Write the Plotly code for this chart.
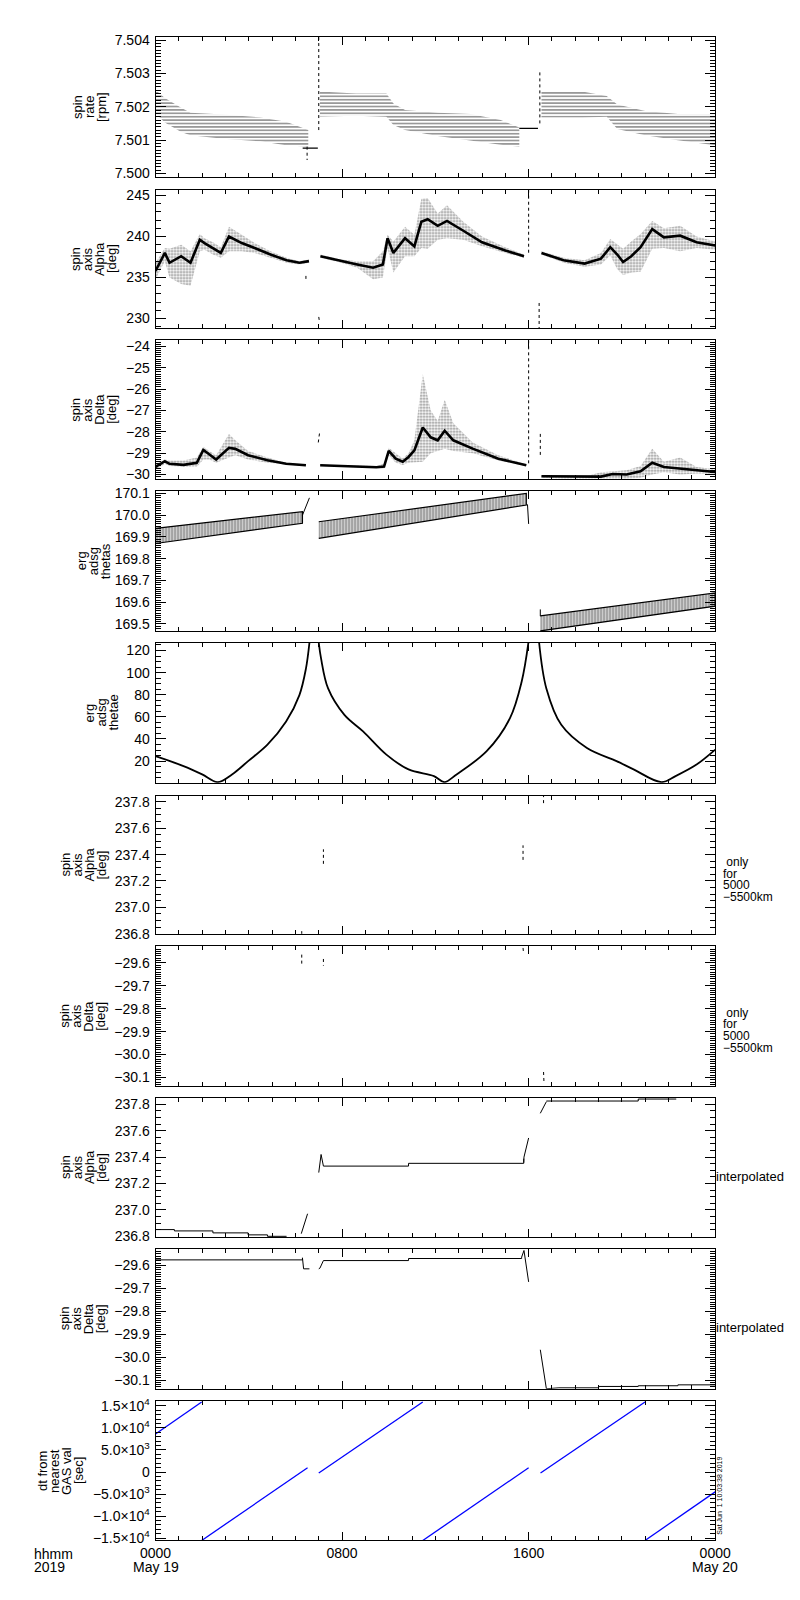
import plotly.graph_objects as go

# ---------------- data (hours since 0000 May 19) ----------------
# panel 1: spin rate [rpm], quantized dotted levels -> upper / lower envelopes
rate_h1 = [0, 0.4, 1.1, 1.5, 2.9, 4.5, 5.6, 6.55]
rate_hi1 = [7.5025, 7.50226, 7.50197, 7.50182, 7.50177, 7.50168, 7.50155, 7.5013]
rate_lo1 = [7.5018, 7.50153, 7.50124, 7.50114, 7.50104, 7.50096, 7.50084, 7.5008]
rate_h2 = [7.05, 8.6, 9.9, 10.2, 10.7, 12.1, 13.5, 14.8, 15.6]
rate_hi2 = [7.50246, 7.5024, 7.5024, 7.5021, 7.5019, 7.50182, 7.50178, 7.5016, 7.50138]
rate_lo2 = [7.50171, 7.50173, 7.5017, 7.50145, 7.5013, 7.50112, 7.50098, 7.50086, 7.5008]
rate_h3 = [16.55, 18.3, 19.35, 19.8, 21.0, 22.4, 24.0]
rate_hi3 = [7.50246, 7.50246, 7.50232, 7.50207, 7.50187, 7.50178, 7.50178]
rate_lo3 = [7.50168, 7.50168, 7.5017, 7.50133, 7.50114, 7.50099, 7.50084]
rate_flat_h = [6.31, 6.96, None, 15.6, 16.4]
rate_flat_v = [7.50076, 7.50076, None, 7.50135, 7.50135]
rate_spike_h = [7.0, 7.0, None, 16.48, 16.48, None, 6.5, 6.5]
rate_spike_v = [7.5013, 7.5041, None, 7.5015, 7.5031, None, 7.5008, 7.5004]

# panel 2: spin axis Alpha [deg]
alp_h1 = [0, 0.4, 0.6, 1.1, 1.5, 1.9, 2.1, 2.46, 2.8, 3.15, 3.7, 4.25, 4.93, 5.62, 6.17, 6.58]
alp_c1 = [235.8, 238.0, 236.8, 237.6, 236.8, 239.6, 239.2, 238.6, 238.0, 240.0, 239.2, 238.6, 237.8, 237.1, 236.8, 237.0]
alp_hi1 = [236.8, 238.6, 238.5, 239.0, 238.2, 240.3, 239.8, 239.3, 238.7, 241.2, 240.2, 239.2, 238.2, 237.4, 237.0, 237.2]
alp_lo1 = [234.8, 237.0, 235.0, 234.2, 234.0, 238.2, 238.4, 237.8, 237.4, 238.2, 238.2, 238.0, 237.4, 236.8, 236.6, 236.8]
alp_h2 = [7.07, 7.96, 8.65, 9.33, 9.75, 9.95, 10.2, 10.7, 11.1, 11.4, 11.67, 12.1, 12.5, 13.2, 14.0, 15.0, 15.8]
alp_c2 = [237.6, 237.0, 236.6, 236.2, 236.6, 239.8, 238.0, 239.8, 238.8, 241.8, 242.1, 241.3, 241.9, 240.7, 239.3, 238.3, 237.6]
alp_hi2 = [237.8, 237.2, 237.0, 237.0, 238.2, 240.2, 239.4, 241.2, 240.2, 244.6, 244.7, 242.8, 243.8, 241.8, 240.0, 238.7, 237.8]
alp_lo2 = [237.4, 236.8, 236.2, 234.8, 235.0, 238.6, 235.6, 237.6, 237.6, 238.6, 238.5, 239.6, 239.8, 239.6, 238.8, 238.0, 237.4]
alp_h3 = [16.55, 17.5, 18.4, 19.1, 19.5, 19.8, 20.05, 20.4, 20.8, 21.3, 21.8, 22.5, 23.2, 24.0]
alp_c3 = [238.0, 237.1, 236.7, 237.3, 238.7, 237.8, 236.9, 237.6, 238.7, 240.9, 239.9, 240.1, 239.3, 238.9]
alp_hi3 = [238.2, 237.4, 237.1, 238.0, 239.7, 239.0, 238.5, 239.4, 240.3, 241.9, 241.0, 241.3, 240.0, 239.4]
alp_lo3 = [237.8, 236.8, 236.3, 236.6, 237.7, 236.0, 235.3, 235.6, 235.7, 238.5, 238.6, 238.2, 238.6, 238.4]
alp_spike_h = [16.0, 16.0, None, 16.45, 16.45, None, 7.0, 7.03, None, 6.45, 6.45]
alp_spike_v = [245.7, 237.8, None, 231.9, 228.8, None, 230.2, 229.6, None, 235.2, 234.8]

# panel 3: spin axis Delta [deg]
del_h1 = [0, 0.4, 0.6, 1.2, 1.77, 2.05, 2.3, 2.6, 3.15, 3.42, 3.97, 4.8, 5.6, 6.45]
del_c1 = [-29.65, -29.38, -29.5, -29.55, -29.45, -28.85, -29.05, -29.3, -28.75, -28.8, -29.1, -29.33, -29.5, -29.57]
del_hi1 = [-29.5, -29.3, -29.35, -29.35, -29.2, -28.7, -28.9, -29.1, -28.1, -28.4, -28.9, -29.2, -29.45, -29.53]
del_lo1 = [-29.8, -29.5, -29.6, -29.65, -29.65, -29.3, -29.3, -29.45, -29.2, -29.1, -29.3, -29.45, -29.55, -29.62]
del_h2 = [7.06, 8.1, 9.47, 9.8, 10.0, 10.3, 10.6, 10.85, 11.1, 11.46, 11.8, 12.1, 12.4, 12.77, 13.6, 14.7, 15.9]
del_c2 = [-29.57, -29.6, -29.66, -29.63, -28.9, -29.26, -29.4, -29.18, -28.87, -27.8, -28.26, -28.4, -27.95, -28.4, -28.79, -29.26, -29.57]
del_hi2 = [-29.54, -29.57, -29.6, -29.5, -28.75, -29.0, -29.25, -29.0, -28.4, -25.3, -27.0, -27.5, -26.5, -27.6, -28.5, -29.1, -29.53]
del_lo2 = [-29.6, -29.63, -29.7, -29.72, -29.1, -29.45, -29.55, -29.45, -29.45, -29.4, -29.0, -28.9, -28.8, -28.9, -29.0, -29.35, -29.6]
del_h3 = [16.55, 17.5, 18.5, 19.1, 19.6, 20.2, 20.8, 21.3, 21.8, 22.5, 23.2, 24.0]
del_c3 = [-30.08, -30.1, -30.12, -30.1, -29.98, -30.0, -29.85, -29.45, -29.65, -29.72, -29.8, -29.88]
del_hi3 = [-30.05, -30.07, -30.07, -29.9, -29.85, -29.8, -29.6, -28.8, -29.4, -29.2, -29.65, -29.75]
del_lo3 = [-30.15, -30.2, -30.2, -30.2, -30.2, -30.2, -30.15, -30.0, -29.9, -30.0, -29.95, -29.95]
del_spike_h = [16.0, 16.0, None, 16.5, 16.5, None, 6.98, 7.04]
del_spike_v = [-23.72, -29.6, None, -28.1, -29.2, None, -28.5, -28.0]

# panel 4: erg adsg thetas
ths_h = [[0, 6.3], [7.0, 15.9], [16.5, 24.0]]
ths_hi = [[169.94, 170.016], [169.97, 170.1], [169.537, 169.643]]
ths_lo = [[169.87, 169.963], [169.894, 170.047], [169.468, 169.582]]
ths_spike_h = [6.3, 6.6, None, 15.95, 16.0, None, 16.5, 16.5]
ths_spike_v = [170.0, 170.08, None, 170.05, 169.96, None, 169.567, 169.536]

# panel 5: erg adsg thetae
the_h = [0, 1.2, 2.0, 2.66, 3.28, 3.97, 4.8, 5.6, 6.17, 6.45, 6.6, None,
         7.0, 7.1, 7.4, 8.1, 8.9, 9.9, 10.85, 11.94, 12.39, 12.91, 14.2, 15.2, 15.7, 15.99, None,
         16.45, 16.76, 17.4, 18.5, 19.77, 20.5, 21.7, 22.3, 23.2, 24.0]
the_v = [24.5, 15.5, 8, 1, 8, 20, 34.9, 55.8, 79.7, 103.6, 127, None,
         127, 112.6, 85.7, 61.8, 46.9, 25.9, 12.5, 6.5, 1, 8, 29, 58.8, 91.7, 127, None,
         127, 85.7, 52.8, 31.9, 20, 12.5, 1, 6.5, 16.9, 30.4]

# panel 6 / 7: values only for 5000-5500 km
alp_sel_h = [6.27, 6.27, None, 7.2, 7.2, None, 15.76, 15.76, None, 16.64, 16.64]
alp_sel_v = [236.82, 236.80, None, 237.33, 237.44, None, 237.36, 237.47, None, 237.79, 237.85]
del_sel_h = [6.27, 6.27, None, 7.2, 7.2, None, 15.76, 15.78, None, 16.64, 16.66]
del_sel_v = [-29.564, -29.612, None, -29.583, -29.612, None, -29.535, -29.557, None, -30.076, -30.127]

# panel 8: interpolated Alpha
ia_step_h = [0, 0.81, 2.46, 3.97, 4.8, 5.62, None, 7.2, 10.85, 15.79, None, 16.76, 20.7, 22.33]
ia_step_v = [236.851, 236.841, 236.826, 236.811, 236.80, 236.80, None, 237.332, 237.353, 237.388, None, 237.825, 237.84, 237.84]
ia_jump_h = [6.25, 6.52, None, 7.0, 7.1, 7.2, None, 15.79, 15.8, 16.0, None, 16.5, 16.76]
ia_jump_v = [236.82, 236.971, None, 237.283, 237.42, 237.332, None, 237.358, 237.40, 237.545, None, 237.732, 237.82]

# panel 9: interpolated Delta
id_step_h = [0, 6.3, None, 7.2, 10.85, 15.7, None, 17.3, 19.0, 20.7, 22.4, 24.0]
id_step_v = [-29.576, -29.567, None, -29.579, -29.57, -29.564, None, -30.134, -30.128, -30.125, -30.121, -30.121]
id_jump_h = [6.3, 6.35, 6.6, None, 7.0, 7.05, 7.2, None, 15.7, 15.8, 16.0, None, 16.5, 16.76, 17.3]
id_jump_v = [-29.567, -29.615, -29.615, None, -29.615, -29.612, -29.579, None, -29.564, -29.535, -29.672, None, -29.968, -30.138, -30.134]

# panel 10: dt from nearest GAS val [sec]
dt_h = [0, 1.98, None, 1.98, 6.52, None, 7.0, 11.46, None, 11.46, 16.0, None, 16.51, 20.99, None, 20.99, 24.0]
dt_v = [8610, 15900, None, -15520, 970, None, -225, 15900, None, -15520, 970, None, -225, 15900, None, -15520, -4500]
dt_ticks = [15000, 10000, 5000, 0, -5000, -10000, -15000]
dt_labels = ["1.5×10<sup>4</sup>", "1.0×10<sup>4</sup>", "5.0×10<sup>3</sup>", "0",
             "−5.0×10<sup>3</sup>", "−1.0×10<sup>4</sup>", "−1.5×10<sup>4</sup>"]

x_ticks = [0, 8, 16, 24]
x_labels = ["0000", "0800", "1600", "0000"]
date_ticks = [0, 24]
date_labels = ["May 19", "May 20"]

titles = [["spin", "rate", "[rpm]"],
          ["spin", "axis", "Alpha", "[deg]"],
          ["spin", "axis", "Delta", "[deg]"],
          ["erg", "adsg", "thetas"],
          ["erg", "adsg", "thetae"],
          ["spin", "axis", "Alpha", "[deg]"],
          ["spin", "axis", "Delta", "[deg]"],
          ["spin", "axis", "Alpha", "[deg]"],
          ["spin", "axis", "Delta", "[deg]"],
          ["dt from", "nearest", "GAS val", "[sec]"]]

# ---------------- layout geometry (pixels) ----------------
W, H = 800, 1600
X0, X1 = 137, 720
tops = [23, 177, 329, 481, 634, 788, 940, 1093, 1245, 1398]
bottoms = [164, 317, 469, 622, 775, 928, 1081, 1233, 1386, 1539]
title_cx = [68, 73, 73, 72, 81, 62, 61, 62, 61, 38]
FONT = "Liberation Sans"

yaxes = [
    dict(range=[7.4999, 7.5041], dtick=0.001, tick0=7.5, tickformat=".3f", minor=0.0001),
    dict(range=[228.8, 245.72], dtick=5, tick0=0, tickformat="d", minor=1),
    dict(range=[-30.22, -23.72], dtick=1, tick0=0, tickformat="d", minor=0.1),
    dict(range=[169.468, 170.111], dtick=0.1, tick0=169.5, tickformat=".1f", minor=0.01),
    dict(range=[0.5, 126.9], dtick=20, tick0=0, tickformat="d", minor=5),
    dict(range=[236.795, 237.847], dtick=0.2, tick0=236.8, tickformat=".1f", minor=0.05),
    dict(range=[-30.138, -29.528], dtick=0.1, tick0=-30.0, tickformat=".1f", minor=0.01),
    dict(range=[236.795, 237.847], dtick=0.2, tick0=236.8, tickformat=".1f", minor=0.05),
    dict(range=[-30.138, -29.528], dtick=0.1, tick0=-30.0, tickformat=".1f", minor=0.01),
    dict(range=[-15520, 16190], minor=1000),
]


def ax(i):
    return ("x" if i == 1 else f"x{i}"), ("y" if i == 1 else f"y{i}")


fig = go.Figure()


def line(i, xs, ys, width=1, color="black", dash="solid", shape="linear"):
    xa, ya = ax(i)
    fig.add_trace(go.Scatter(x=xs, y=ys, xaxis=xa, yaxis=ya, mode="lines",
                             line=dict(color=color, width=width, dash=dash, shape=shape),
                             connectgaps=False, hoverinfo="skip", showlegend=False))


def band(i, xs, lo, hi, shape, size, solidity, outline=0):
    xa, ya = ax(i)
    fig.add_trace(go.Scatter(x=list(xs) + list(xs)[::-1], y=list(hi) + list(lo)[::-1],
                             xaxis=xa, yaxis=ya, mode="lines", fill="toself",
                             fillcolor="rgba(0,0,0,0)",
                             fillpattern=dict(shape=shape, size=size, solidity=solidity,
                                              fgcolor="black", bgcolor="rgba(0,0,0,0)",
                                              fillmode="overlay"),
                             line=dict(color="black", width=outline),
                             hoverinfo="skip", showlegend=False))


# panel 1
for h, lo, hi in [(rate_h1, rate_lo1, rate_hi1), (rate_h2, rate_lo2, rate_hi2), (rate_h3, rate_lo3, rate_hi3)]:
    band(1, h, lo, hi, "-", 3.4, 0.4)
line(1, rate_flat_h, rate_flat_v, width=1.2)
line(1, rate_spike_h, rate_spike_v, dash="dot")

# panel 2
for h, c, lo, hi in [(alp_h1, alp_c1, alp_lo1, alp_hi1), (alp_h2, alp_c2, alp_lo2, alp_hi2),
                     (alp_h3, alp_c3, alp_lo3, alp_hi3)]:
    band(2, h, lo, hi, ".", 3, 0.4)
    line(2, h, c, width=2.6)
line(2, alp_spike_h, alp_spike_v, dash="dot")

# panel 3
for h, c, lo, hi in [(del_h1, del_c1, del_lo1, del_hi1), (del_h2, del_c2, del_lo2, del_hi2),
                     (del_h3, del_c3, del_lo3, del_hi3)]:
    band(3, h, lo, hi, ".", 3, 0.4)
    line(3, h, c, width=2.6)
line(3, del_spike_h, del_spike_v, dash="dot")

# panel 4
for h, lo, hi in zip(ths_h, ths_lo, ths_hi):
    band(4, h, lo, hi, "|", 3, 0.6, outline=1.2)
line(4, ths_spike_h, ths_spike_v)

# panel 5
line(5, the_h, the_v, width=1.8, shape="spline")

# panels 6 / 7
line(6, alp_sel_h, alp_sel_v, dash="dot")
line(7, del_sel_h, del_sel_v, dash="dot")

# panels 8 / 9
line(8, ia_step_h, ia_step_v, shape="hv")
line(8, ia_jump_h, ia_jump_v)
line(9, id_step_h, id_step_v, shape="hv")
line(9, id_jump_h, id_jump_v)

# panel 10
line(10, dt_h, dt_v, width=1.3, color="#0000ff")

tickfont = dict(family=FONT, size=14, color="black")
layout = dict(width=W, height=H, margin=dict(l=0, r=0, t=0, b=0),
              paper_bgcolor="white", plot_bgcolor="white", showlegend=False,
              font=dict(family=FONT, color="black"))

annotations = []
for k in range(10):
    i = k + 1
    xa, ya = ax(i)
    xkey = "xaxis" if i == 1 else f"xaxis{i}"
    ykey = "yaxis" if i == 1 else f"yaxis{i}"
    ydom = [1 - bottoms[k] / H, 1 - tops[k] / H]
    layout[xkey] = dict(domain=[X0 / W, X1 / W], anchor=ya, range=[0, 24],
                        tickmode="array", tickvals=x_ticks, ticktext=x_labels,
                        showticklabels=(i == 10), tickfont=tickfont,
                        ticks="inside", ticklen=8, tickcolor="black",
                        showline=True, linecolor="black", linewidth=1, mirror="allticks",
                        showgrid=False, zeroline=False,
                        minor=dict(dtick=1, tick0=0, ticks="inside", ticklen=4,
                                   tickcolor="black", showgrid=False))
    yc = yaxes[k]
    ycfg = dict(domain=ydom, anchor=xa, range=yc["range"], tickfont=tickfont,
                ticks="inside", ticklen=10, tickcolor="black",
                showline=True, linecolor="black", linewidth=1, mirror="allticks",
                showgrid=False, zeroline=False, ticklabelstandoff=2,
                minor=dict(dtick=yc["minor"], ticks="inside", ticklen=5,
                           tickcolor="black", showgrid=False))
    if i == 10:
        ycfg.update(tickmode="array", tickvals=dt_ticks, ticktext=dt_labels)
        ycfg["minor"]["tick0"] = 0
    else:
        ycfg.update(tickmode="linear", dtick=yc["dtick"], tick0=yc["tick0"],
                    tickformat=yc["tickformat"])
        ycfg["minor"]["tick0"] = yc["tick0"]
    layout[ykey] = ycfg

    # stacked, rotated axis title (one annotation per line)
    cy = 1 - (tops[k] + bottoms[k]) / 2 / H
    lines = titles[k]
    n = len(lines)
    for j, txt in enumerate(lines):
        xpx = title_cx[k] + (j - (n - 1) / 2) * 12.5
        annotations.append(dict(text=txt, x=xpx / W, y=cy, xref="paper", yref="paper",
                                xanchor="center", yanchor="middle", textangle=-90,
                                showarrow=False, font=dict(family=FONT, size=13)))

# second line of the bottom time labels (date under 0000)
for hv, txt in zip(date_ticks, date_labels):
    annotations.append(dict(text=txt, x=hv, y=1 - 1566 / H, xref="x10", yref="paper",
                            xanchor="center", yanchor="middle", showarrow=False,
                            font=dict(family=FONT, size=14)))

# right side notes
for k in (5, 6):
    for j, txt in enumerate([" only", "for", "5000", "−5500km"]):
        annotations.append(dict(text=txt, x=726 / W, y=1 - (tops[k] + 67 + 11.7 * j) / H,
                                xref="paper", yref="paper", xanchor="left", yanchor="middle",
                                showarrow=False, font=dict(family=FONT, size=12)))
for k in (7, 8):
    annotations.append(dict(text="interpolated", x=719 / W, y=1 - (tops[k] + 79) / H,
                            xref="paper", yref="paper", xanchor="left", yanchor="middle",
                            showarrow=False, font=dict(family=FONT, size=13)))

# bottom-left time axis legend
for j, txt in enumerate(["hhmm", "2019"]):
    annotations.append(dict(text=txt, x=8 / W, y=1 - (1553 + 12.5 * j) / H,
                            xref="paper", yref="paper", xanchor="left", yanchor="middle",
                            showarrow=False, font=dict(family=FONT, size=14)))

# plot time stamp
annotations.append(dict(text="Sat Jun  1 10:03:38 2019", x=725 / W, y=1 - 1494 / H,
                        xref="paper", yref="paper", xanchor="center", yanchor="middle",
                        textangle=-90, showarrow=False, font=dict(family=FONT, size=7)))

layout["annotations"] = annotations
fig.update_layout(**layout)

fig.write_html("out.html")
